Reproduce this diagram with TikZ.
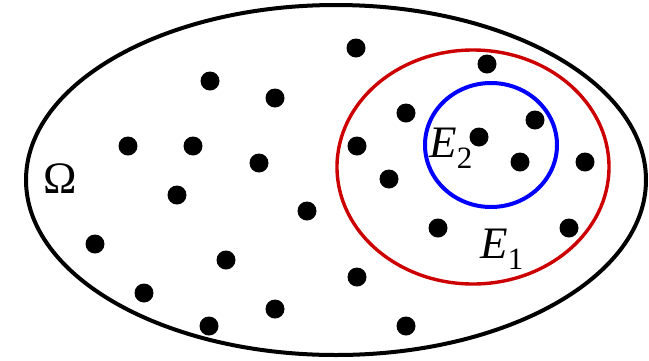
\documentclass[tikz,border=0pt]{standalone}
\usepackage{fontspec}
\setmainfont{Liberation Serif}
\definecolor{setred}{RGB}{204,0,0}
\definecolor{setblue}{RGB}{0,0,255}
\tikzset{
  dot/.style={circle,fill=black,inner sep=0pt,minimum size=9.5pt},
  lbl/.style={inner sep=0pt,anchor=base west,font=\fontsize{22.5pt}{26pt}\selectfont},
}
\newcommand{\subidx}[1]{\raisebox{-5.5pt}{\fontsize{15.5pt}{18pt}\selectfont #1}}
\begin{document}
\begin{tikzpicture}[x=0.5pt,y=-0.5pt]
\useasboundingbox (0,0) rectangle (649,360);
\draw[line width=2pt] (336,180) ellipse [x radius=155pt, y radius=87.5pt];
\draw[setred,line width=1.7pt] (473,167) ellipse [x radius=68pt, y radius=58.5pt];
\draw[setblue,line width=2pt] (491,145) ellipse [x radius=33pt, y radius=31pt];
\foreach \p [count=\i] in {(210,81),(275,98),(128,146),(193,146),(259,163),
  (356,48),(487,64),(406,113),(535,120),(357,146),(479,137),(520,162),(585,162),(389,179),
  (177,195),(307,211),(95,244),(226,260),(144,293),(209,326),(275,309),
  (438,228),(569,228),(357,277),(406,326)}
  \node[dot] (d\i) at \p {};
\node[lbl] (omega) at (43,193) {Ω};
\node[lbl] (e2) at (429,157) {\textit{E}\subidx{2}};
\node[lbl] (e1) at (480,258) {\textit{E}\subidx{1}};
\end{tikzpicture}
\end{document}
